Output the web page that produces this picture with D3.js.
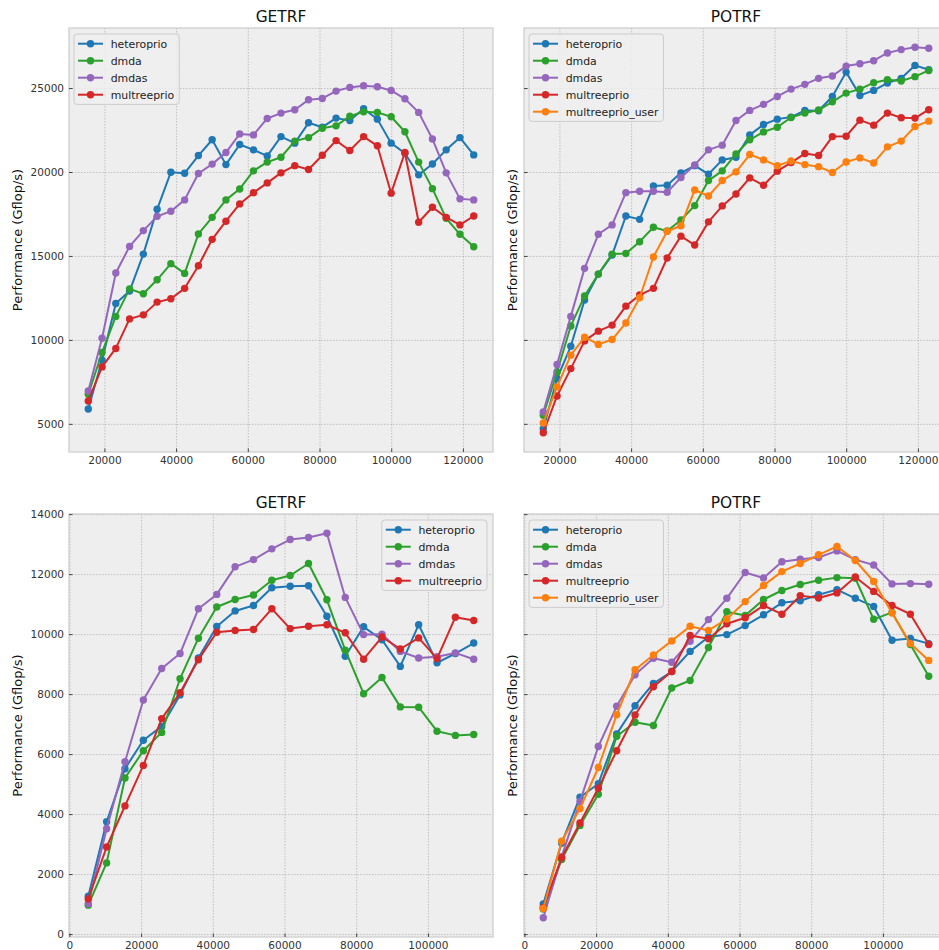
<!DOCTYPE html>
<html>
<head>
<meta charset="utf-8">
<script src="https://cdn.jsdelivr.net/npm/d3@7"></script>
<style>
  html, body { margin: 0; padding: 0; background: #ffffff; overflow: hidden; }
  svg { display: block; font-family: "DejaVu Sans", sans-serif; }
</style>
</head>
<body>
<svg id="fig" width="939" height="950"></svg>
<script>
// Matrix sizes for the two rows of panels
const sizesTop = [15360, 19200, 23040, 26880, 30720, 34560, 38400, 42240, 46080, 49920,
  53760, 57600, 61440, 65280, 69120, 72960, 76800, 80640, 84480, 88320,
  92160, 96000, 99840, 103680, 107520, 111360, 115200, 119040, 122880];
const sizesBottom = [5120, 10240, 15360, 20480, 25600, 30720, 35840, 40960, 46080, 51200,
  56320, 61440, 66560, 71680, 76800, 81920, 87040, 92160, 97280, 102400, 107520, 112640];

const schedulers = ["heteroprio", "dmda", "dmdas", "multreeprio", "multreeprio_user"];
const colors = {
  heteroprio: "#1f77b4", dmda: "#2ca02c", dmdas: "#9467bd",
  multreeprio: "#d62728", multreeprio_user: "#ff7f0e"
};

// Performance (Gflop/s), first row
const getrfTopHeteroprio = [5915, 8820, 12200, 12940, 15140, 17810, 20020, 19960, 21010, 21950,
  20470, 21670, 21350, 20990, 22140, 21750, 22960, 22700, 23240, 23100,
  23800, 23180, 21750, 21150, 19860, 20510, 21350, 22080, 21050];
const getrfTopDmda = [6790, 9280, 11430, 13070, 12780, 13610, 14570, 13990, 16340, 17330,
  18370, 19020, 20100, 20620, 20910, 21870, 22080, 22640, 22780, 23360,
  23620, 23580, 23320, 22430, 20620, 19040, 17270, 16320, 15580];
const getrfTopDmdas = [6990, 10130, 14010, 15600, 16540, 17390, 17690, 18370, 19940, 20500,
  21190, 22300, 22240, 23220, 23540, 23740, 24330, 24410, 24850, 25070,
  25170, 25110, 24890, 24390, 23580, 22000, 19980, 18430, 18370];
const getrfTopMultreeprio = [6390, 8420, 9520, 11280, 11520, 12280, 12480, 13100, 14450, 16020,
  17100, 18130, 18800, 19380, 19980, 20410, 20180, 21030, 21900, 21310,
  22140, 21590, 18770, 21190, 17040, 17930, 17330, 16880, 17410];

const potrfTopHeteroprio = [4740, 7730, 9650, 12400, 13950, 15080, 17410, 17210, 19200, 19240,
  19980, 20410, 19900, 20750, 20910, 22240, 22860, 23180, 23300, 23700,
  23680, 24530, 25980, 24590, 24890, 25330, 25610, 26380, 26120];
const potrfTopDmda = [5540, 8120, 10860, 12640, 13950, 15140, 15180, 15880, 16740, 16520,
  17170, 18030, 19520, 20100, 21110, 21950, 22420, 22700, 23280, 23540,
  23720, 24210, 24730, 24970, 25350, 25530, 25450, 25710, 26080];
const potrfTopDmdas = [5740, 8560, 11430, 14290, 16320, 16880, 18800, 18880, 18880, 18820,
  19700, 20450, 21350, 21630, 23100, 23700, 24060, 24530, 24970, 25250,
  25610, 25750, 26340, 26480, 26660, 27120, 27320, 27460, 27400];
const potrfTopMultreeprio = [4500, 6690, 8320, 9970, 10550, 10910, 12040, 12700, 13100, 14910,
  16210, 15680, 17060, 18010, 18720, 19680, 19240, 20080, 20590, 21130,
  21010, 22140, 22160, 23120, 22820, 23540, 23260, 23240, 23740];
const potrfTopMultreeprioUser = [5080, 7230, 9120, 10190, 9760, 10050, 11040, 12540, 14970, 16500,
  16830, 18960, 18600, 19520, 20040, 21070, 20750, 20400, 20690, 20470,
  20350, 20000, 20630, 20870, 20570, 21530, 21870, 22740, 23060];

// Performance (Gflop/s), second row
const getrfBottomHeteroprio = [1280, 3760, 5530, 6480, 6940, 7990, 9220, 10270, 10790, 10970,
  11560, 11610, 11630, 10610, 9280, 10260, 9830, 8940, 10330, 9060, 9370, 9720];
const getrfBottomDmda = [980, 2390, 5220, 6130, 6740, 8530, 9880, 10920, 11170, 11320,
  11810, 11970, 12370, 11160, 9480, 8030, 8570, 7590, 7580, 6780, 6640, 6670];
const getrfBottomDmdas = [1030, 3530, 5760, 7820, 8870, 9370, 10860, 11340, 12260, 12500,
  12860, 13170, 13240, 13380, 11240, 10000, 10010, 9440, 9220, 9260, 9390, 9180];
const getrfBottomMultreeprio = [1190, 2920, 4290, 5640, 7200, 8060, 9160, 10080, 10140, 10170,
  10860, 10200, 10280, 10330, 10060, 9180, 9920, 9520, 9890, 9200, 10580, 10470];

const potrfBottomHeteroprio = [1020, 3050, 4580, 5030, 6690, 7630, 8370, 8770, 9440, 9920,
  10000, 10300, 10660, 11060, 11130, 11330, 11500, 11210, 10940, 9810, 9870, 9700];
const potrfBottomDmda = [850, 2500, 3640, 4680, 6610, 7080, 6970, 8220, 8470, 9570,
  10760, 10640, 11170, 11470, 11670, 11810, 11900, 11880, 10510, 10740, 9670, 8610];
const potrfBottomDmdas = [560, 2600, 4440, 6270, 7610, 8660, 9210, 9080, 9780, 10500,
  11210, 12070, 11890, 12430, 12510, 12570, 12790, 12500, 12320, 11690, 11700, 11680];
const potrfBottomMultreeprio = [900, 2560, 3720, 4880, 6130, 7320, 8260, 8770, 9970, 9860,
  10360, 10560, 10970, 10680, 11300, 11220, 11390, 11920, 11440, 10970, 10680, 9670];
const potrfBottomMultreeprioUser = [870, 3110, 4200, 5570, 7330, 8830, 9320, 9790, 10280, 10140,
  10520, 11100, 11640, 12100, 12370, 12660, 12940, 12470, 11770, 10720, 9700, 9140];

const yTicksTop = [5000, 10000, 15000, 20000, 25000];
const yTicksBottom = [0, 2000, 4000, 6000, 8000, 10000, 12000, 14000];
const xTicksTop = [20000, 40000, 60000, 80000, 100000, 120000];
const xTicksBottom = [0, 20000, 40000, 60000, 80000, 100000];

const panels = [
  { title: "GETRF", row: 0, col: 0, x: sizesTop, xTicks: xTicksTop, yTicks: yTicksTop, legend: "upper left",
    series: { heteroprio: getrfTopHeteroprio, dmda: getrfTopDmda, dmdas: getrfTopDmdas, multreeprio: getrfTopMultreeprio } },
  { title: "POTRF", row: 0, col: 1, x: sizesTop, xTicks: xTicksTop, yTicks: yTicksTop, legend: "upper left",
    series: { heteroprio: potrfTopHeteroprio, dmda: potrfTopDmda, dmdas: potrfTopDmdas, multreeprio: potrfTopMultreeprio, multreeprio_user: potrfTopMultreeprioUser } },
  { title: "GETRF", row: 1, col: 0, x: sizesBottom, xTicks: xTicksBottom, yTicks: yTicksBottom, legend: "upper right",
    series: { heteroprio: getrfBottomHeteroprio, dmda: getrfBottomDmda, dmdas: getrfBottomDmdas, multreeprio: getrfBottomMultreeprio } },
  { title: "POTRF", row: 1, col: 1, x: sizesBottom, xTicks: xTicksBottom, yTicks: yTicksBottom, legend: "upper left",
    series: { heteroprio: potrfBottomHeteroprio, dmda: potrfBottomDmda, dmdas: potrfBottomDmdas, multreeprio: potrfBottomMultreeprio, multreeprio_user: potrfBottomMultreeprioUser } }
];

// Axes boxes (pixels)
const colX = [69, 524];
const rowY = [28, 514];
const rowH = [424, 423];
const axW = 424;

function padded(lo, hi) {
  const p = (hi - lo) * 0.05;
  return [lo - p, hi + p];
}

// y range is shared within each row
const rowY_domain = [0, 1].map(r => {
  const vals = panels.filter(p => p.row === r).flatMap(p => Object.values(p.series).flat());
  return padded(d3.min(vals), d3.max(vals));
});

const svg = d3.select("#fig");

panels.forEach(p => {
  const x0 = colX[p.col], y0 = rowY[p.row], h = rowH[p.row];
  const xs = d3.scaleLinear().domain(padded(d3.min(p.x), d3.max(p.x))).range([x0, x0 + axW]);
  const ys = d3.scaleLinear().domain(rowY_domain[p.row]).range([y0 + h, y0]);
  const g = svg.append("g");

  // background
  g.append("rect").attr("x", x0).attr("y", y0).attr("width", axW).attr("height", h)
    .attr("fill", "#eeeeee");

  // grid
  g.append("g").selectAll("line").data(p.xTicks).join("line")
    .attr("x1", d => xs(d)).attr("x2", d => xs(d)).attr("y1", y0).attr("y2", y0 + h)
    .attr("stroke", "#b2b2b2").attr("stroke-width", 0.8).attr("stroke-dasharray", "1.5,1.5");
  g.append("g").selectAll("line").data(p.yTicks).join("line")
    .attr("x1", x0).attr("x2", x0 + axW).attr("y1", d => ys(d)).attr("y2", d => ys(d))
    .attr("stroke", "#b2b2b2").attr("stroke-width", 0.8).attr("stroke-dasharray", "1.5,1.5");

  // frame
  g.append("rect").attr("x", x0).attr("y", y0).attr("width", axW).attr("height", h)
    .attr("fill", "none").attr("stroke", "#cfcfcf").attr("stroke-width", 1.3);

  // ticks (inward)
  g.append("g").selectAll("line").data(p.xTicks).join("line")
    .attr("x1", d => xs(d)).attr("x2", d => xs(d)).attr("y1", y0 + h).attr("y2", y0 + h - 3.5)
    .attr("stroke", "#444").attr("stroke-width", 1);
  g.append("g").selectAll("line").data(p.yTicks).join("line")
    .attr("x1", x0).attr("x2", x0 + 3.5).attr("y1", d => ys(d)).attr("y2", d => ys(d))
    .attr("stroke", "#444").attr("stroke-width", 1);

  // tick labels
  g.append("g").selectAll("text").data(p.xTicks).join("text")
    .attr("x", d => xs(d)).attr("y", y0 + h + 12)
    .attr("text-anchor", "middle").attr("font-size", "10.5px").attr("fill", "#333")
    .text(d => String(d));
  if (p.col === 0) {
    g.append("g").selectAll("text").data(p.yTicks).join("text")
      .attr("x", x0 - 5).attr("y", d => ys(d) + 3.8)
      .attr("text-anchor", "end").attr("font-size", "10.5px").attr("fill", "#333")
      .text(d => String(d));
  }

  // title & y label
  g.append("text").attr("x", x0 + axW / 2).attr("y", y0 - 6)
    .attr("text-anchor", "middle").attr("font-size", "15.4px").attr("fill", "#111")
    .text(p.title);
  const ylx = p.col === 0 ? 22 : 517;
  g.append("text").attr("transform", `translate(${ylx},${y0 + h / 2}) rotate(-90)`)
    .attr("text-anchor", "middle").attr("font-size", "13px").attr("fill", "#111")
    .text("Performance (Gflop/s)");

  // series
  const names = schedulers.filter(s => p.series[s]);
  const line = d3.line().x((d, i) => xs(p.x[i])).y(d => ys(d));
  names.forEach(name => {
    const vals = p.series[name];
    const sg = g.append("g");
    sg.append("path").datum(vals).attr("d", line)
      .attr("fill", "none").attr("stroke", colors[name]).attr("stroke-width", 2)
      .attr("stroke-linejoin", "round");
    sg.selectAll("circle").data(vals).join("circle")
      .attr("cx", (d, i) => xs(p.x[i])).attr("cy", d => ys(d)).attr("r", 3.7)
      .attr("fill", colors[name]);
  });

  // legend
  const rowStep = 17, firstRow = 9.7;
  const lg = g.append("g");
  const box = lg.append("rect");
  const items = lg.selectAll("g").data(names).join("g");
  const texts = items.append("text").attr("font-size", "10.9px").attr("fill", "#222")
    .attr("y", (d, i) => firstRow + i * rowStep + 3.9).attr("x", 36.7).text(d => d);
  let maxW = 0;
  texts.each(function () { maxW = Math.max(maxW, this.getComputedTextLength()); });
  const bw = 36.7 + maxW + 5;
  const bh = 2 * firstRow + (names.length - 1) * rowStep;
  items.append("line").attr("x1", 4).attr("x2", 29)
    .attr("y1", (d, i) => firstRow + i * rowStep).attr("y2", (d, i) => firstRow + i * rowStep)
    .attr("stroke", d => colors[d]).attr("stroke-width", 2);
  items.append("circle").attr("cx", 16.5).attr("cy", (d, i) => firstRow + i * rowStep).attr("r", 3.7)
    .attr("fill", d => colors[d]);
  box.attr("x", 0).attr("y", 0).attr("width", bw).attr("height", bh).attr("rx", 3)
    .attr("fill", "#eeeeee").attr("fill-opacity", 0.85).attr("stroke", "#cccccc").attr("stroke-width", 1);
  const lx = p.legend === "upper right" ? x0 + axW - 6 - bw : x0 + 5;
  lg.attr("transform", `translate(${lx},${y0 + 6})`);
});
</script>
</body>
</html>
